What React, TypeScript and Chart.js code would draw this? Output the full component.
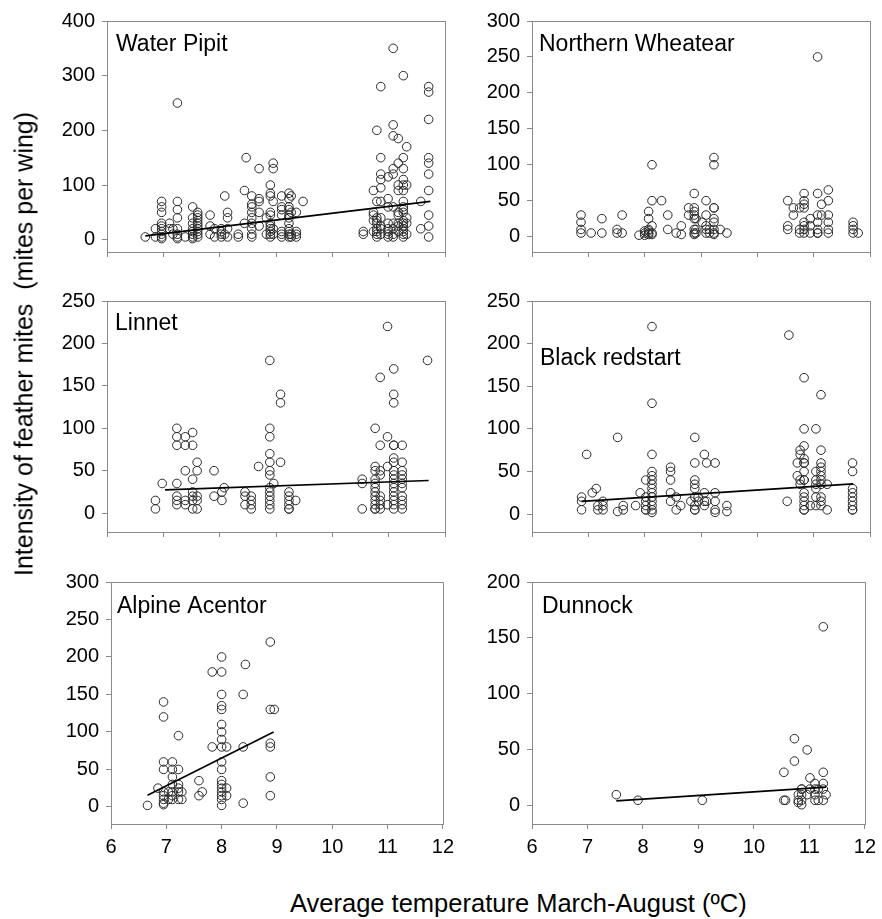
import React, { useEffect, useRef } from 'react';
import { Chart, registerables } from 'chart.js';

Chart.register(...registerables);

const FONT = '"Liberation Sans", Arial, Helvetica, sans-serif';

// ---------- shared axis values ----------
const xTicks = [6, 7, 8, 9, 10, 11, 12];
const ticks400 = [0, 100, 200, 300, 400];
const ticks300 = [0, 50, 100, 150, 200, 250, 300];
const ticks250 = [0, 50, 100, 150, 200, 250];
const ticks200 = [0, 50, 100, 150, 200];

const xAxisTitle = 'Average temperature March-August (ºC)';
const yAxisTitle = 'Intensity of feather mites  (mites per wing)';

// ---------- Water Pipit ----------
const waterPipitTemps = [6.68, 6.86, 6.97, 7.11, 7.17, 7.25, 7.39, 7.52, 7.61, 7.83, 7.91, 8.03, 8.09, 8.14, 8.33, 8.44, 8.47, 8.57, 8.7, 8.83, 8.9, 8.95, 9.1, 9.23, 9.27, 9.36, 9.48, 10.55, 10.73, 10.79, 10.86, 10.99, 11.08, 11.17, 11.26, 11.32, 11.57, 11.71];
const waterPipitMites = [
  [5], [20, 5], [70, 60, 50, 30, 25, 20, 15, 10, 5, 2], [30, 20], [20, 10],
  [250, 70, 55, 40, 20, 10, 5, 2], [5], [60, 40, 30, 20, 15, 10, 5, 2],
  [50, 45, 40, 35, 30, 25, 20, 15, 10, 5], [45, 25, 10], [20, 5], [20, 15, 10, 5],
  [80, 10], [50, 40, 20, 5], [10, 5], [90, 30], [150],
  [80, 65, 60, 50, 40, 30, 20, 10, 5], [130, 75, 70, 50, 25], [40, 10],
  [100, 85, 80, 50, 45, 30, 25, 20, 15, 10, 5], [140, 130, 70, 20, 10],
  [80, 60, 55, 45, 15, 10, 5], [85, 75, 60, 55, 45, 40, 30, 20, 15, 10, 5],
  [80, 50, 10, 5], [50, 15, 10, 5], [70], [15, 10], [90, 50, 45, 35, 15],
  [200, 70, 40, 35, 30, 20, 15, 10, 5], [280, 150, 120, 110, 95, 70, 40, 25, 20, 10],
  [115, 75, 60, 30, 20, 15, 10, 5], [350, 210, 190, 130, 120, 60, 30, 20, 10, 5],
  [185, 140, 100, 90, 50, 45, 30, 25, 15],
  [300, 150, 130, 110, 100, 90, 70, 60, 55, 50, 35, 30, 25, 20, 15, 10, 5],
  [170, 100, 40, 30, 10], [70, 20], [280, 270, 220, 150, 140, 120, 90, 45, 25, 5],
];
const waterPipitTrend = [[6.68, 7], [11.74, 70]];

// ---------- Northern Wheatear ----------
const wheatearTemps = [6.87, 7.05, 7.24, 7.51, 7.6, 7.9, 8.0, 8.07, 8.13, 8.3, 8.41, 8.56, 8.65, 8.78, 8.88, 8.91, 9.02, 9.09, 9.15, 9.23, 9.34, 9.46, 10.54, 10.64, 10.75, 10.83, 10.94, 11.07, 11.14, 11.26, 11.7, 11.79];
const wheatearMites = [
  [30, 20, 10, 5], [5], [25, 5], [10, 5], [30, 5], [2], [8, 5, 2], [35, 25, 10, 8, 5, 3],
  [100, 50, 15, 5, 3], [50], [30, 10], [5], [15, 3], [40, 30],
  [60, 40, 35, 30, 25, 10, 5, 3], [25, 10, 5], [20], [50, 30, 15, 10, 5], [10, 5],
  [110, 100, 40, 40, 25, 20, 10, 5, 3], [10], [5], [50, 15, 10], [40, 30], [40, 10, 5],
  [60, 50, 45, 40, 20, 15, 10, 5], [25, 15, 5], [250, 60, 30, 20, 10, 5, 5], [45, 30],
  [65, 50, 30, 20, 10, 5], [20, 15, 10, 5], [5],
];

// ---------- Linnet ----------
const linnetTemps = [6.86, 6.98, 7.24, 7.39, 7.52, 7.6, 7.9, 8.04, 8.08, 8.45, 8.56, 8.69, 8.89, 8.96, 9.08, 9.23, 9.35, 10.53, 10.76, 10.85, 10.98, 11.09, 11.24, 11.69];
const linnetMites = [
  [15, 5], [35], [100, 90, 80, 35, 20, 15, 10], [90, 80, 50, 15, 10],
  [95, 80, 40, 25, 20, 15, 5], [60, 50, 20, 15, 5], [50, 20], [25, 15], [30],
  [25, 20, 10], [20, 15, 10, 5], [55],
  [180, 100, 90, 70, 60, 50, 45, 30, 25, 20, 15, 10, 5], [35], [140, 130, 60],
  [25, 20, 15, 10, 5, 5], [15], [40, 35, 5],
  [100, 55, 50, 40, 35, 30, 25, 20, 15, 10, 5, 5], [160, 80, 50, 45, 20, 15, 10, 5],
  [220, 90, 55, 10],
  [170, 140, 130, 80, 80, 65, 60, 50, 45, 40, 35, 30, 25, 20, 15, 10, 5],
  [80, 60, 50, 45, 40, 35, 30, 20, 15, 10, 5], [180],
];
const linnetTrend = [[7.03, 27.5], [11.71, 38.5]];

// ---------- Black redstart ----------
const redstartTemps = [6.88, 6.97, 7.07, 7.14, 7.17, 7.26, 7.52, 7.62, 7.84, 7.92, 8.02, 8.13, 8.46, 8.56, 8.64, 8.82, 8.89, 8.95, 9.06, 9.1, 9.25, 9.46, 10.53, 10.56, 10.71, 10.76, 10.83, 10.94, 11.04, 11.13, 11.24, 11.69];
const redstartMites = [
  [20, 15, 5], [70], [25], [30], [10, 5], [15, 10, 5], [90, 3], [10, 5], [10], [25],
  [40, 20, 15, 10, 5, 5], [220, 130, 70, 50, 45, 40, 35, 30, 25, 20, 15, 10, 5, 2],
  [55, 50, 40, 25, 15], [20, 5], [10], [15], [90, 60, 40, 35, 30, 20, 10, 5, 5],
  [20, 15], [70, 25, 15, 10], [60, 15], [60, 25, 15, 5, 2], [10, 3], [15], [210],
  [60, 45], [75, 70, 40, 35],
  [160, 100, 80, 65, 60, 60, 50, 40, 40, 25, 20, 15, 10, 5, 5], [10],
  [100, 50, 40, 35, 30, 20, 10], [140, 75, 60, 55, 50, 45, 40, 35, 20, 15, 10],
  [35, 5], [60, 50, 30, 25, 20, 15, 10, 5, 5],
];
const redstartTrend = [[6.88, 15], [11.7, 35.5]];

// ---------- Alpine Accentor ----------
const accentorTemps = [6.66, 6.85, 6.95, 7.04, 7.11, 7.22, 7.28, 7.59, 7.65, 7.83, 8.0, 8.09, 8.39, 8.43, 8.88, 8.95];
const accentorMites = [
  [2], [25], [140, 120, 60, 50, 20, 15, 10, 5, 3], [20, 10], [60, 50, 40, 30, 20, 15, 10],
  [95, 50, 30, 25, 20, 10], [20, 10], [35, 15], [20], [180, 80],
  [200, 180, 150, 135, 130, 110, 100, 90, 80, 60, 50, 35, 30, 25, 20, 15, 10, 2],
  [80, 25, 15], [150, 80, 5], [190], [220, 130, 85, 80, 40, 15], [130],
];
const accentorTrend = [[6.66, 15.5], [8.94, 100]];

// ---------- Dunnock ----------
const dunnockTemps = [7.52, 7.91, 9.07, 10.54, 10.57, 10.73, 10.8, 10.86, 10.96, 11.01, 11.1, 11.16, 11.25, 11.3];
const dunnockMites = [
  [10], [5], [5], [30, 5], [5], [60, 40], [10, 5, 3], [15, 15, 10, 5, 1], [50, 10],
  [25, 15], [20, 15, 10, 5], [15, 5], [160, 30, 20, 15, 5], [10],
];
const dunnockTrend = [[7.52, 4.4], [11.3, 16.8]];

type Panel = {
  key: string;
  title: string;
  temps: number[];
  mites: number[][];
  trend: number[][] | null;
  yTicks: number[];
  yMin: number;
  yMax: number;
  plot: { l: number; t: number; r: number; b: number };
  titleDx: number;
  titleDy: number;
  showX: boolean;
};

const panels: Panel[] = [
  { key: 'wp', title: 'Water Pipit', temps: waterPipitTemps, mites: waterPipitMites, trend: waterPipitTrend, yTicks: ticks400, yMin: -22.5, yMax: 400, plot: { l: 107, t: 18, r: 445, b: 263 }, titleDx: 9, titleDy: 30, showX: false },
  { key: 'nw', title: 'Northern Wheatear', temps: wheatearTemps, mites: wheatearMites, trend: null, yTicks: ticks300, yMin: -21.4, yMax: 300, plot: { l: 532, t: 18, r: 870, b: 263 }, titleDx: 7, titleDy: 30, showX: false },
  { key: 'li', title: 'Linnet', temps: linnetTemps, mites: linnetMites, trend: linnetTrend, yTicks: ticks250, yMin: -22.2, yMax: 250, plot: { l: 107, t: 298, r: 445, b: 543 }, titleDx: 8, titleDy: 29, showX: false },
  { key: 'br', title: 'Black redstart', temps: redstartTemps, mites: redstartMites, trend: redstartTrend, yTicks: ticks250, yMin: -21, yMax: 250, plot: { l: 532, t: 298, r: 870, b: 543 }, titleDx: 8, titleDy: 64, showX: false },
  { key: 'aa', title: 'Alpine Acentor', temps: accentorTemps, mites: accentorMites, trend: accentorTrend, yTicks: ticks300, yMin: -22.8, yMax: 300, plot: { l: 111, t: 579, r: 448, b: 824 }, titleDx: 6, titleDy: 31, showX: true },
  { key: 'du', title: 'Dunnock', temps: dunnockTemps, mites: dunnockMites, trend: dunnockTrend, yTicks: ticks200, yMin: -16.2, yMax: 200, plot: { l: 532, t: 579, r: 870, b: 824 }, titleDx: 10, titleDy: 31, showX: true },
];

const AXIS_W = 70;
const PAD_TOP = 16;
const PAD_RIGHT = 12;

const framePlugin = {
  id: 'panelFrame',
  afterDraw(chart: any, _args: any, opts: any) {
    const { ctx, chartArea: a } = chart;
    ctx.save();
    ctx.strokeStyle = '#8a8a8a';
    ctx.lineWidth = 1;
    ctx.strokeRect(Math.round(a.left) + 0.5, Math.round(a.top) + 0.5, Math.round(a.right - a.left), Math.round(a.bottom - a.top));
    ctx.fillStyle = '#000';
    ctx.font = `23px ${FONT}`;
    ctx.textBaseline = 'alphabetic';
    ctx.textAlign = 'left';
    ctx.fillText(opts.title, a.left + opts.dx, a.top + opts.dy);
    ctx.restore();
  },
};

function PanelChart({ p }: { p: Panel }) {
  const ref = useRef<HTMLCanvasElement>(null);
  const plotW = p.plot.r - p.plot.l;
  const plotH = p.plot.b - p.plot.t;
  const xH = p.showX ? 45 : 8;
  const w = AXIS_W + plotW + PAD_RIGHT;
  const h = PAD_TOP + plotH + xH;
  const left = p.plot.l - AXIS_W;
  const top = p.plot.t - PAD_TOP;

  useEffect(() => {
    const pts = p.temps.flatMap((t, i) => p.mites[i].map((m) => ({ x: t, y: m })));
    const datasets: any[] = [];
    if (p.trend) {
      datasets.push({
        type: 'line',
        data: p.trend.map(([x, y]) => ({ x, y })),
        borderColor: '#000',
        borderWidth: 1.7,
        pointRadius: 0,
        fill: false,
        tension: 0,
        order: 0,
      });
    }
    datasets.push({
      type: 'scatter',
      data: pts,
      pointRadius: 4.3,
      pointBorderWidth: 1,
      pointBorderColor: '#2a2a2a',
      pointBackgroundColor: 'rgba(0,0,0,0)',
      pointHoverRadius: 4.3,
      order: 1,
    });

    const chart = new Chart(ref.current as HTMLCanvasElement, {
      type: 'scatter',
      data: { datasets },
      options: {
        responsive: false,
        animation: false,
        events: [],
        layout: { padding: { left: 0, top: PAD_TOP, right: PAD_RIGHT, bottom: 0 } },
        plugins: {
          legend: { display: false },
          tooltip: { enabled: false },
          panelFrame: { title: p.title, dx: p.titleDx, dy: p.titleDy },
        } as any,
        scales: {
          x: {
            type: 'linear',
            min: 6,
            max: 12,
            afterBuildTicks: (s: any) => {
              s.ticks = xTicks.map((v) => ({ value: v }));
            },
            afterFit: (s: any) => {
              s.height = xH;
            },
            ticks: {
              display: p.showX,
              color: '#000',
              padding: 6,
              font: { family: FONT, size: 20 },
              maxRotation: 0,
              autoSkip: false,
              callback: (v: any) => String(v),
            },
            grid: { drawOnChartArea: false, drawTicks: true, tickLength: 5, color: '#8a8a8a' },
            border: { display: false },
          },
          y: {
            type: 'linear',
            min: p.yMin,
            max: p.yMax,
            afterBuildTicks: (s: any) => {
              s.ticks = p.yTicks.map((v) => ({ value: v }));
            },
            afterFit: (s: any) => {
              s.width = AXIS_W;
            },
            ticks: {
              color: '#000',
              padding: 7,
              font: { family: FONT, size: 20 },
              autoSkip: false,
              callback: (v: any) => String(v),
            },
            grid: { drawOnChartArea: false, drawTicks: true, tickLength: 5, color: '#8a8a8a' },
            border: { display: false },
          },
        },
      } as any,
      plugins: [framePlugin],
    });
    return () => chart.destroy();
  }, [p]);

  return (
    <canvas
      ref={ref}
      width={w}
      height={h}
      style={{ position: 'absolute', left, top, width: w, height: h }}
    />
  );
}

export default function App() {
  return (
    <div
      style={{
        position: 'absolute',
        left: 0,
        top: 0,
        width: 882,
        height: 919,
        background: '#fff',
        overflow: 'hidden',
        fontFamily: FONT,
      }}
    >
      {panels.map((p) => (
        <PanelChart key={p.key} p={p} />
      ))}
      <div
        style={{
          position: 'absolute',
          left: 24,
          top: 344,
          transform: 'translate(-50%, -50%) rotate(-90deg)',
          fontSize: 25,
          whiteSpace: 'pre',
          color: '#000',
          lineHeight: '29px',
        }}
      >
        {yAxisTitle}
      </div>
      <div
        style={{
          position: 'absolute',
          left: 290,
          top: 888,
          fontSize: 25.5,
          whiteSpace: 'pre',
          color: '#000',
          lineHeight: '30px',
        }}
      >
        {xAxisTitle}
      </div>
    </div>
  );
}
